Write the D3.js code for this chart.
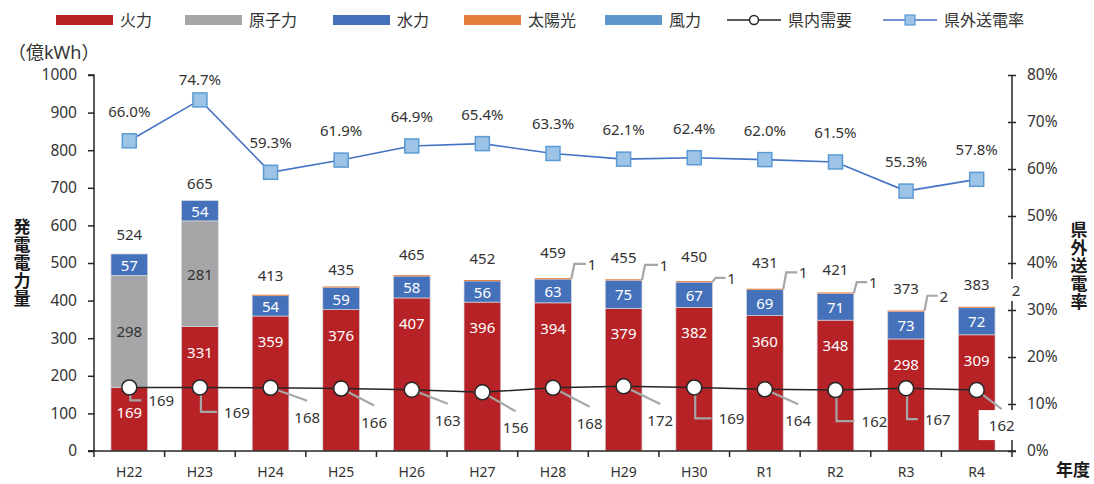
<!DOCTYPE html>
<html><head><meta charset="utf-8">
<script src="https://cdn.jsdelivr.net/npm/d3@7"></script>
<style>body{margin:0;background:#fff}text{font-family:"Noto Sans","Noto Sans CJK JP",sans-serif}</style>
</head><body>
<svg id="c" width="1094" height="484"></svg>
<script>
// ---------- data ----------
const categories = ["H22","H23","H24","H25","H26","H27","H28","H29","H30","R1","R2","R3","R4"];
const thermal = [169,331,359,376,407,396,394,379,382,360,348,298,309];
const nuclear = [298,281,0,0,0,0,0,0,0,0,0,0,0];
const hydro   = [57,54,54,59,58,56,63,75,67,69,71,73,72];
const solar   = [0,0,0.3,0.4,0.5,0.6,1,1,1,1,1,2,2];
const wind    = [0,0,0,0,0,0,0,0,0,0,0,0,0];
const totals  = [524,665,413,435,465,452,459,455,450,431,421,373,383];
const demand  = [169,169,168,166,163,156,168,172,169,164,162,167,162];
const exportRate = [66.0,74.7,59.3,61.9,64.9,65.4,63.3,62.1,62.4,62.0,61.5,55.3,57.8];
const leftTicks  = [0,100,200,300,400,500,600,700,800,900,1000];
const rightTicks = [0,10,20,30,40,50,60,70,80];
const seriesNames = ["火力","原子力","水力","太陽光","風力"];
const lineNames = ["県内需要","県外送電率"];

// ---------- layout (not data) ----------
const colors = {"火力":"#b72227","原子力":"#a6a6a9","水力":"#4571bb","太陽光":"#e47c3d","風力":"#5f97cc"};
const totalOffset = [20,18,21,18,22,23,27,23,26,27,24,23,23];
const rateOffset = [30,21,30,30,30,30,30,30,30,30,30,30,30];
const demandLayout = [
  {dx:32,dy:13,elbow:true},{dx:37,dy:24.5,elbow:true},{dx:36.7,dy:29},{dx:33,dy:33},
  {dx:36,dy:30},{dx:33.3,dy:35},{dx:36.6,dy:35},{dx:36.6,dy:33.7},
  {dx:37.3,dy:31,elbow:true},{dx:33.3,dy:31},{dx:39,dy:31,elbow:true},{dx:31.7,dy:31,elbow:true},
  {dx:25,dy:35,box:true}
];
const solarLayout = [null,null,null,null,null,null,
  {dx:20.7,dy:-15},{dx:22,dy:-15},{dx:19,dy:-4},{dx:20,dy:-17},{dx:19.4,dy:-11},{dx:19.3,dy:-15},{dx:21,dy:-17,noLeader:true,box:true}];

const svg = d3.select("#c");
const X0 = 94, X1 = 1012, Y0 = 451, Y1 = 75;
const x = d3.scaleBand().domain(categories).range([X0,X1]).paddingInner(0.48).paddingOuter(0.24);
const y = d3.scaleLinear().domain([0,1000]).range([Y0,Y1]);
const yR = d3.scaleLinear().domain([0,80]).range([Y0,Y1]);
const cx = c => x(c) + x.bandwidth()/2;
const txt = "#333";
const leaderCol = "#a6a6a6";

// ---------- stacked bars ----------
const rows = categories.map((c,i)=>({cat:c,"火力":thermal[i],"原子力":nuclear[i],"水力":hydro[i],"太陽光":solar[i],"風力":wind[i]}));
const stack = d3.stack().keys(seriesNames)(rows);
const gBars = svg.append("g");
stack.forEach(s=>{
  gBars.selectAll(null).data(s.filter(d=>d[1]-d[0]>0)).enter().append("rect")
    .attr("x",d=>x(d.data.cat)).attr("width",x.bandwidth())
    .attr("y",d=>Math.min(y(d[1]), y(d[0])-1))
    .attr("height",d=>Math.max(1,y(d[0])-y(d[1])))
    .attr("fill",colors[s.key])
    .attr("stroke", s.key==="太陽光"||s.key==="風力" ? "none" : "#d6d6dc").attr("stroke-width",0.7);
});

// segment labels
const gLab = svg.append("g").attr("font-size",15).attr("text-anchor","middle").attr("dominant-baseline","central");
stack.forEach(s=>{
  if(s.key==="太陽光"||s.key==="風力") return;
  s.forEach(d=>{
    const v = d[1]-d[0]; if(v<=0) return;
    let yy = s.key==="火力" ? y(d[1])+25 : (y(d[0])+y(d[1]))/2;
    gLab.append("text").attr("x",cx(d.data.cat)).attr("y",yy)
      .attr("fill", s.key==="原子力" ? txt : "#fff").text(v);
  });
});
// totals
const tops = stack[stack.length-1].map(d=>d[1]);
categories.forEach((c,i)=>{
  gLab.append("text").attr("x",cx(c)).attr("y",y(tops[i])-totalOffset[i]).attr("fill",txt).text(totals[i]);
});

// ---------- axes ----------
const gAx = svg.append("g");
const ax = gAx.append("g").attr("transform",`translate(${X0},0)`)
  .call(d3.axisLeft(y).tickValues(leftTicks).tickSize(6).tickPadding(11).tickFormat(d3.format("d")));
ax.selectAll("text").attr("font-size",15.5).attr("fill",txt).attr("font-family","Noto Sans");
ax.selectAll("line,path").attr("stroke","#262626").attr("stroke-width",1.5);
ax.select(".domain").attr("d",`M-6,${Y1}H0V${Y0}H-6`);

const axR = gAx.append("g").attr("transform",`translate(${X1},0)`)
  .call(d3.axisRight(yR).tickValues(rightTicks).tickSize(4).tickPadding(11).tickFormat(d=>d+"%"));
axR.selectAll("text").attr("font-size",15.5).attr("fill",txt).attr("font-family","Noto Sans");
axR.selectAll("line,path").attr("stroke","#262626").attr("stroke-width",1.5);
axR.selectAll(".tick line").attr("x1",-4);
axR.select(".domain").attr("d",`M0,${Y1}V${Y0}`);

// bottom axis
const step = x.step();
gAx.append("line").attr("x1",X0-6).attr("x2",X1+4).attr("y1",Y0).attr("y2",Y0).attr("stroke","#262626").attr("stroke-width",1.5);
d3.range(categories.length+1).forEach(k=>{
  const xx = X0 + step*k;
  gAx.append("line").attr("x1",xx).attr("x2",xx).attr("y1",Y0).attr("y2",Y0+6).attr("stroke","#262626").attr("stroke-width",1.5);
});
categories.forEach(c=>{
  gAx.append("text").attr("x",cx(c)).attr("y",471).attr("text-anchor","middle").attr("dominant-baseline","central")
    .attr("font-size",14).attr("fill",txt).text(c);
});

// ---------- demand line ----------
const gD = svg.append("g");
demand.forEach((v,i)=>{
  const L = demandLayout[i], px = cx(categories[i]), py = y(v);
  const lx = px+L.dx, ly = py+L.dy;
  let d;
  if(L.elbow) d = `M${px+1},${py}V${ly}H${lx-20}`;
  else d = `M${px},${py}L${lx},${ly-16}`;
  gD.append("path").attr("d",d).attr("fill","none").attr("stroke",leaderCol).attr("stroke-width",2.2);
});
gD.append("path").datum(demand).attr("fill","none").attr("stroke","#262626").attr("stroke-width",1.5)
  .attr("d",d3.line().x((d,i)=>cx(categories[i])).y(d=>y(d)));
gD.selectAll("circle").data(demand).enter().append("circle")
  .attr("cx",(d,i)=>cx(categories[i])).attr("cy",d=>y(d)).attr("r",7.5)
  .attr("fill","#fff").attr("stroke","#262626").attr("stroke-width",1.5);
demand.forEach((v,i)=>{
  const L = demandLayout[i], px = cx(categories[i]), py = y(v);
  const lx = px+L.dx, ly = py+L.dy;
  if(L.box) gD.append("rect").attr("x",lx-23).attr("y",ly-15).attr("width",38).attr("height",30).attr("fill","#fff");
  gD.append("text").attr("x",lx).attr("y",ly).attr("text-anchor","middle").attr("dominant-baseline","central")
    .attr("font-size",15).attr("fill",txt).text(v);
});

// ---------- solar callouts ----------
const gS = svg.append("g");
solar.forEach((v,i)=>{
  const L = solarLayout[i]; if(!L) return;
  const bx = x(categories[i])+x.bandwidth(), by = y(tops[i]);
  const lx = bx+L.dx, ly = by+L.dy;
  if(!L.noLeader) gS.append("path").attr("d",`M${bx},${by}L${bx+3},${ly}H${lx-6}`)
    .attr("fill","none").attr("stroke",leaderCol).attr("stroke-width",2.2);
  if(L.box) gS.append("rect").attr("x",lx-7).attr("y",ly-11).attr("width",14).attr("height",22).attr("fill","#fff");
  gS.append("text").attr("x",lx).attr("y",ly).attr("text-anchor","middle").attr("dominant-baseline","central")
    .attr("font-size",15).attr("fill",txt).text(Math.round(v));
});

// ---------- export rate line ----------
const gR = svg.append("g");
gR.append("path").datum(exportRate).attr("fill","none").attr("stroke","#4472c4").attr("stroke-width",1.6)
  .attr("d",d3.line().x((d,i)=>cx(categories[i])).y(d=>yR(d)));
gR.selectAll("rect").data(exportRate).enter().append("rect")
  .attr("x",(d,i)=>cx(categories[i])-7).attr("y",d=>yR(d)-7).attr("width",14).attr("height",14)
  .attr("fill","#9dc3e6").attr("stroke","#5b9bd5").attr("stroke-width",1.5);
exportRate.forEach((v,i)=>{
  gR.append("text").attr("x",cx(categories[i])).attr("y",yR(v)-rateOffset[i]).attr("text-anchor","middle")
    .attr("dominant-baseline","central").attr("font-size",15).attr("fill",txt).text(v.toFixed(1)+"%");
});

// ---------- titles ----------
svg.append("text").attr("x",8).attr("y",52).attr("dominant-baseline","central").attr("font-size",18)
  .attr("fill",txt).attr("font-family","Noto Sans CJK JP").text("（億kWh）");
function vTitle(str,xc,ytop){
  svg.append("text").attr("x",xc).attr("y",ytop)
    .attr("font-size",17).attr("font-weight","bold").attr("fill","#1a1a1a")
    .attr("font-family","Noto Sans CJK JP")
    .attr("writing-mode","vertical-rl").style("text-orientation","upright")
    .attr("letter-spacing",1).text(str);
}
vTitle("発電電力量",21,218);
vTitle("県外送電率",1078,221);
svg.append("text").attr("x",1073).attr("y",469).attr("text-anchor","middle").attr("dominant-baseline","central")
  .attr("font-size",17).attr("font-weight","bold").attr("fill","#1a1a1a").attr("font-family","Noto Sans CJK JP").text("年度");

// ---------- legend ----------
const gL = svg.append("g").attr("font-family","Noto Sans CJK JP");
const legendX = [56,185,333,464,605,727,883];
const legendItems = seriesNames.concat(lineNames);
legendItems.forEach((name,k)=>{
  const lx = legendX[k];
  if(k<5){
    gL.append("rect").attr("x",lx).attr("y",15).attr("width",57).attr("height",10).attr("fill",colors[name]);
  } else if(name==="県内需要"){
    gL.append("line").attr("x1",lx).attr("x2",lx+54).attr("y1",20).attr("y2",20).attr("stroke","#262626").attr("stroke-width",1.5);
    gL.append("circle").attr("cx",lx+27).attr("cy",20).attr("r",4.5).attr("fill","#fff").attr("stroke","#262626").attr("stroke-width",1.5);
  } else {
    gL.append("line").attr("x1",lx).attr("x2",lx+54).attr("y1",20).attr("y2",20).attr("stroke","#4472c4").attr("stroke-width",1.5);
    gL.append("rect").attr("x",lx+22).attr("y",15).attr("width",10).attr("height",10).attr("fill","#9dc3e6").attr("stroke","#5b9bd5").attr("stroke-width",1.2);
  }
  gL.append("text").attr("x",lx+(k<5?64:61)).attr("y",20).attr("dominant-baseline","central")
    .attr("font-size",16).attr("fill",txt).text(name);
});
</script>
</body></html>
